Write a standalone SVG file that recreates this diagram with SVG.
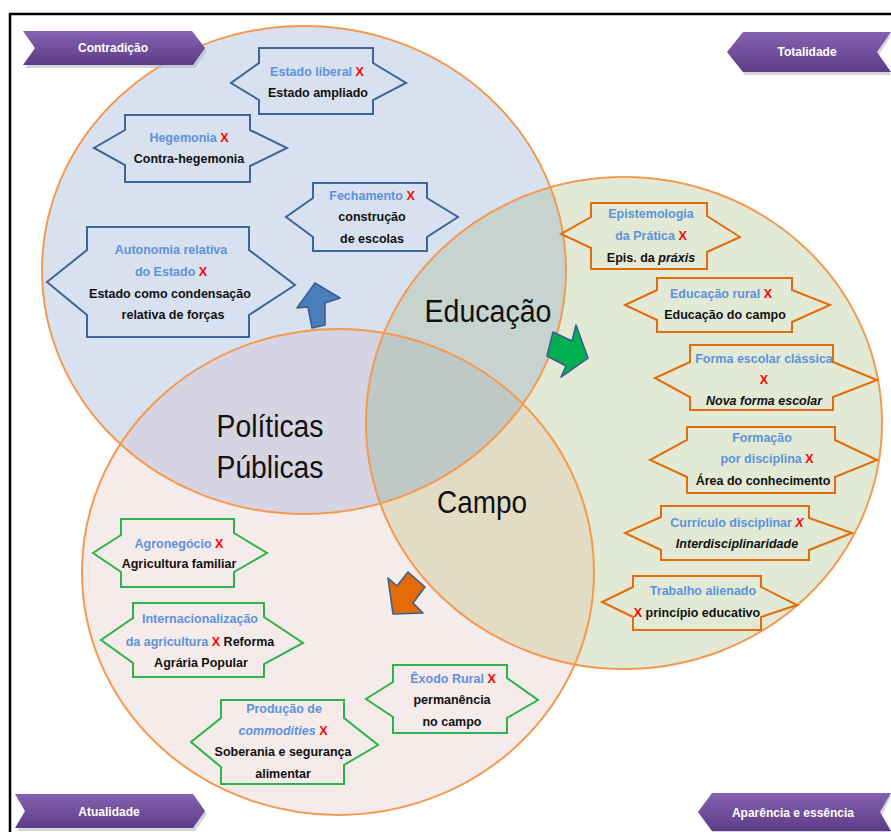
<svg xmlns="http://www.w3.org/2000/svg" width="891" height="832" viewBox="0 0 891 832">
<defs>
<linearGradient id="pg" x1="0" y1="0" x2="0" y2="1">
<stop offset="0" stop-color="#8662b2"/>
<stop offset="1" stop-color="#5c3c86"/>
</linearGradient>
<clipPath id="cpB"><ellipse cx="304" cy="270" rx="262" ry="244"/></clipPath>
<clipPath id="cpG"><ellipse cx="624" cy="423" rx="258" ry="246"/></clipPath>
<style>
.circ{fill:none;stroke:#f39a50;stroke-width:2}
.nb{fill:none;stroke:#3d6599;stroke-width:2}
.no{fill:none;stroke:#e46c0a;stroke-width:2}
.ng{fill:none;stroke:#2db34a;stroke-width:2}
.t{font-family:"Liberation Sans",Arial,sans-serif;font-size:12.5px;font-weight:bold;text-anchor:middle}
.bl{fill:#5e92da}
.k{fill:#111}
.x{fill:#ff0000}
.big{font-family:"Liberation Sans",Arial,sans-serif;font-size:31px;fill:#111;text-anchor:middle}
.ban{fill:url(#pg)}
.bsh{fill:#b8b8c0;opacity:0.6}
.bt{font-family:"Liberation Sans",Arial,sans-serif;font-weight:bold;font-size:12px;fill:#fff;text-anchor:middle}
.arr{stroke:#3d5f8f;stroke-width:1.6;stroke-linejoin:round}
</style>
</defs>
<rect width="891" height="832" fill="#fff"/>
<rect x="10" y="14" width="900" height="840" fill="none" stroke="#000" stroke-width="2.5"/>

<g id="circles">
<ellipse cx="304" cy="270" rx="262" ry="244" fill="#d8e1ef"/>
<ellipse cx="624" cy="423" rx="258" ry="246" fill="#e2ead5"/>
<ellipse cx="338" cy="572" rx="256" ry="243" fill="#f5ebea"/>
<ellipse cx="624" cy="423" rx="258" ry="246" fill="#c6d3cf" clip-path="url(#cpB)"/>
<ellipse cx="338" cy="572" rx="256" ry="243" fill="#d6d4e3" clip-path="url(#cpB)"/>
<ellipse cx="338" cy="572" rx="256" ry="243" fill="#e3dcc4" clip-path="url(#cpG)"/>
<g clip-path="url(#cpB)"><ellipse cx="338" cy="572" rx="256" ry="243" fill="#bec8c4" clip-path="url(#cpG)"/></g>
<ellipse class="circ" cx="304" cy="270" rx="262" ry="244"/>
<ellipse class="circ" cx="624" cy="423" rx="258" ry="246"/>
<ellipse class="circ" cx="338" cy="572" rx="256" ry="243"/>
</g>

<g id="labels">
<text class="big" x="270" y="437" textLength="107" lengthAdjust="spacingAndGlyphs">Políticas</text>
<text class="big" x="270" y="478" textLength="107" lengthAdjust="spacingAndGlyphs">Públicas</text>
<text class="big" x="488" y="322" textLength="127" lengthAdjust="spacingAndGlyphs">Educação</text>
<text class="big" x="482" y="513" textLength="90" lengthAdjust="spacingAndGlyphs">Campo</text>
</g>

<g id="banners">
<polygon class="bsh" points="25,34 194,34 207,51 195,68 25,68 37,51"/>
<polygon class="ban" points="23,31 192,31 205,48 193,65 23,65 35,48"/>
<text class="bt" x="113" y="52">Contradição</text>
<polygon class="bsh" points="745,35 891,35 879,55 891,75 745,75 729,55"/>
<polygon class="ban" points="743,32 891,32 877,52 891,72 743,72 727,52"/>
<text class="bt" x="807" y="56">Totalidade</text>
<polygon class="bsh" points="17,797 195,797 207,814 195,831 17,831 27,814"/>
<polygon class="ban" points="15,794 193,794 205,811 193,828 15,828 25,811"/>
<text class="bt" x="109" y="816">Atualidade</text>
<polygon class="bsh" points="714,796 891,796 882,815 891,834 714,834 700,815"/>
<polygon class="ban" points="712,793 891,793 880,812 891,831 712,831 698,812"/>
<text class="bt" x="793" y="817">Aparência e essência</text>
</g>

<g id="connectors">
<polygon class="arr" fill="#4a7ebb" points="315,283 340,298 325,303 325,325 312,328 308,307 297,308"/>
<polygon class="arr" fill="#00b050" points="553,332 572,341 576,325 588,358 561,377 566,366 547,356"/>
<polygon class="arr" fill="#e36c09" points="388,578 397,586 408,572 425,587 413,603 423,613 393,614"/>
</g>

<g id="n-estado-liberal">
<path class="nb" d="M259,48 H373 V63 L406,83 L373,100 V114 H259 V100 L231,83 L259,63 Z"/>
<text class="t bl" x="317" y="76">Estado liberal <tspan class="x">X</tspan></text>
<text class="t k" x="318" y="97">Estado ampliado</text>
</g>

<g id="n-hegemonia">
<path class="nb" d="M125,115 H250 V130 L287,148 L250,166 V182 H125 V165 L94,148 L125,130 Z"/>
<text class="t bl" x="189" y="142">Hegemonia <tspan class="x">X</tspan></text>
<text class="t k" x="189" y="163">Contra-hegemonia</text>
</g>

<g id="n-fechamento">
<path class="nb" d="M313,183 H427 V198 L458,217 L427,237 V251 H313 V237 L286,217 L313,198 Z"/>
<text class="t bl" x="372" y="200">Fechamento <tspan class="x">X</tspan></text>
<text class="t k" x="372" y="221">construção</text>
<text class="t k" x="372" y="243">de escolas</text>
</g>

<g id="n-autonomia">
<path class="nb" d="M87,227 H249 V250 L295,285 L249,315 V337 H87 V315 L47,282 L87,250 Z"/>
<text class="t bl" x="171" y="254">Autonomia relativa</text>
<text class="t bl" x="171" y="276">do Estado <tspan class="x">X</tspan></text>
<text class="t k" x="170" y="298">Estado como condensação</text>
<text class="t k" x="173" y="319">relativa de forças</text>
</g>

<g id="n-epistemologia">
<path class="no" d="M591,203 H707 V216 L740,237 L707,252 V269 H591 V248 L561,234 L591,217 Z"/>
<text class="t bl" x="651" y="218">Epistemologia</text>
<text class="t bl" x="651" y="240">da Prática <tspan class="x">X</tspan></text>
<text class="t k" x="651" y="262">Epis<tspan class="x">.</tspan> da <tspan font-style="italic">práxis</tspan></text>
</g>

<g id="n-educacao-rural">
<path class="no" d="M657,278 H792 V290 L830,305 L792,322 V332 H657 V320 L625,305 L657,290 Z"/>
<text class="t bl" x="721" y="298">Educação rural <tspan class="x">X</tspan></text>
<text class="t k" x="725" y="319">Educação do campo</text>
</g>

<g id="n-forma-escolar">
<path class="no" d="M690,345 H833 V362 L877,380 L833,397 V410 H690 V397 L655,378 L690,362 Z"/>
<text class="t bl" x="764" y="363">Forma escolar clássica</text>
<text class="t x" x="764" y="384">X</text>
<text class="t k" x="764" y="405" font-style="italic">Nova forma escolar</text>
</g>

<g id="n-formacao">
<path class="no" d="M687,427 H835 V440 L877,460 L835,477 V493 H687 V477 L650,460 L687,440 Z"/>
<text class="t bl" x="762" y="442">Formação</text>
<text class="t bl" x="767" y="463">por disciplina <tspan class="x">X</tspan></text>
<text class="t k" x="763" y="485">Área do conhecimento</text>
</g>

<g id="n-curriculo">
<path class="no" d="M661,506 H809 V518 L852,533 L809,550 V560 H661 V550 L625,533 L661,517 Z"/>
<text class="t bl" x="737" y="527">Currículo disciplinar <tspan class="x" font-style="italic">X</tspan></text>
<text class="t k" x="737" y="548" font-style="italic">Interdisciplinaridade</text>
</g>

<g id="n-trabalho">
<path class="no" d="M633,576 H761 V587 L797,605 L761,617 V630 H633 V617 L602,602 L633,587 Z"/>
<text class="t bl" x="703" y="595">Trabalho alienado</text>
<text class="t k" x="697" y="617"><tspan class="x">X</tspan> princípio educativo</text>
</g>

<g id="n-agronegocio">
<path class="ng" d="M121,519 H234 V533 L267,553 L234,572 V587 H121 V572 L93,553 L121,535 Z"/>
<text class="t bl" x="179" y="548">Agronegócio <tspan class="x">X</tspan></text>
<text class="t k" x="179" y="568">Agricultura familiar</text>
</g>

<g id="n-internacionalizacao">
<path class="ng" d="M133,603 H264 V617 L303,643 L264,664 V677 H133 V663 L101,640 L133,618 Z"/>
<text class="t bl" x="200" y="623">Internacionalização</text>
<text class="t" x="200" y="646"><tspan class="bl">da agricultura </tspan><tspan class="x">X</tspan><tspan class="k"> Reforma</tspan></text>
<text class="t k" x="201" y="667">Agrária Popular</text>
</g>

<g id="n-producao">
<path class="ng" d="M221,700 H344 V718 L378,745 L344,765 V784 H221 V767 L191,742 L221,718 Z"/>
<text class="t bl" x="284" y="713">Produção de</text>
<text class="t bl" x="283" y="735"><tspan font-style="italic">commodities</tspan> <tspan class="x">X</tspan></text>
<text class="t k" x="283" y="756">Soberania e segurança</text>
<text class="t k" x="283" y="778">alimentar</text>
</g>

<g id="n-exodo">
<path class="ng" d="M393,665 H507 V678 L538,700 L507,718 V733 H393 V717 L366,699 L393,682 Z"/>
<text class="t bl" x="453" y="683">Êxodo Rural <tspan class="x">X</tspan></text>
<text class="t k" x="452" y="704">permanência</text>
<text class="t k" x="452" y="726">no campo</text>
</g>
</svg>
